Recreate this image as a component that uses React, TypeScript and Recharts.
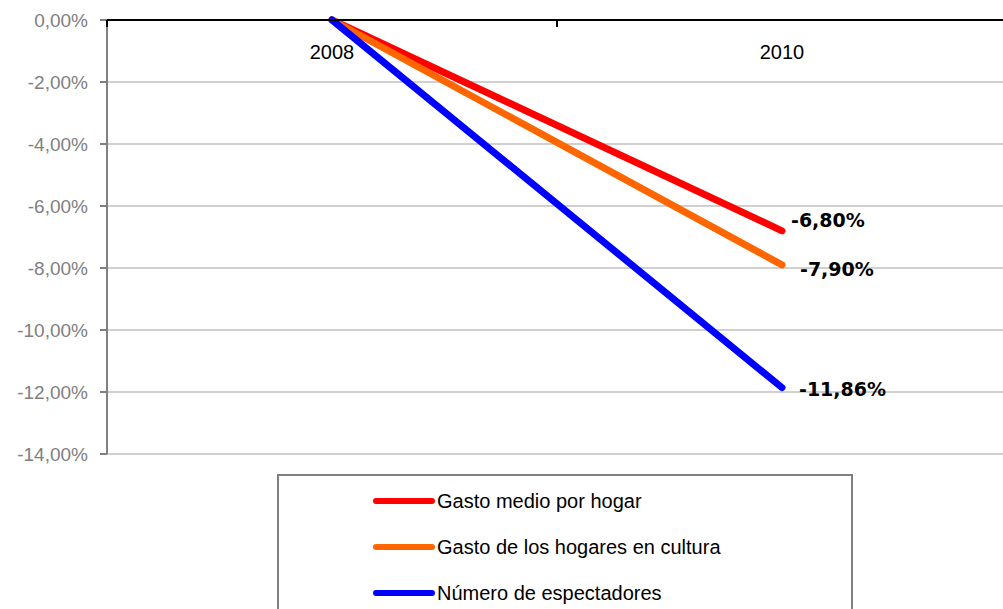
import { LineChart, Line, XAxis, YAxis, CartesianGrid, Legend, LabelList } from 'recharts';

// Variación 2008-2010 (en %)
const categories = ['2008', '2010'];
const gastoMedio = [0, -6.8];
const gastoCultura = [0, -7.9];
const espectadores = [0, -11.86];
const yTicks = [0, -2, -4, -6, -8, -10, -12, -14];

const series = [
  { key: 'gastoMedio', name: 'Gasto medio por hogar', color: '#ff0000', values: gastoMedio },
  { key: 'gastoCultura', name: 'Gasto de los hogares en cultura', color: '#ff6600', values: gastoCultura },
  { key: 'espectadores', name: 'Número de espectadores', color: '#0000ff', values: espectadores },
];

// label offsets (px) next to the last point of each line
const labelOffsets: Record<string, { dx: number; dy: number }> = {
  gastoMedio: { dx: 9, dy: -11 },
  gastoCultura: { dx: 18, dy: 4 },
  espectadores: { dx: 17, dy: 1 },
};

// x is the band centre on a 0..n numeric axis so the tick marks can sit between years
const data = categories.map((c, i) => {
  const row: Record<string, number | string> = { x: i + 0.5, name: c };
  series.forEach((s) => { row[s.key] = s.values[i]; });
  return row;
});

const FONT = '"Liberation Sans", Arial, sans-serif';
const fmtPct = (v: number) => `${v.toFixed(2).replace('.', ',')}%`;

const XTick = (props: any) => {
  const { x, y, payload } = props;
  const v = payload.value;
  if (Number.isInteger(v)) {
    return <line x1={x} x2={x} y1={y} y2={y + 7} stroke="#000" strokeWidth={2} />;
  }
  return (
    <text x={x} y={y + 39} textAnchor="middle" fontSize={20} fontFamily={FONT} fill="#000">
      {categories[Math.floor(v)]}
    </text>
  );
};

const endLabel = (key: string) => (props: any) => {
  const { x, y, value, index } = props;
  if (index !== categories.length - 1) return null;
  const off = labelOffsets[key];
  return (
    <text
      x={x + off.dx}
      y={y + off.dy}
      dominantBaseline="central"
      fontSize={19}
      fontWeight="bold"
      fontFamily='"DejaVu Sans", sans-serif'
      fill="#000"
    >
      {fmtPct(value)}
    </text>
  );
};

// legend keeps the series order (red, orange, blue)
const renderLegend = () => (
  <div style={{ paddingTop: 20 }}>
    <div
      style={{
        marginLeft: 277,
        width: 572,
        height: 161,
        border: '2px solid #808080',
        background: '#fff',
        paddingTop: 2,
        boxSizing: 'content-box',
      }}
    >
      {series.map((s) => (
        <div key={s.key} style={{ display: 'flex', alignItems: 'center', height: 46, paddingLeft: 94 }}>
          <span style={{ display: 'inline-block', width: 62, height: 6, borderRadius: 3, background: s.color }} />
          <span style={{ marginLeft: 2, fontSize: 20, fontFamily: FONT, color: '#000' }}>{s.name}</span>
        </div>
      ))}
    </div>
  </div>
);

export default function App() {
  return (
    <div style={{ position: 'absolute', left: 0, top: 0, width: 1003, height: 609, overflow: 'hidden', background: '#fff' }}>
      <LineChart width={1010} height={641} data={data} margin={{ top: 0, right: 3, bottom: 0, left: 0 }}>
        <CartesianGrid vertical={false} stroke="#c0c0c0" strokeWidth={1.5} />
        <XAxis
          dataKey="x"
          type="number"
          orientation="top"
          domain={[0, categories.length]}
          ticks={[0, 0.5, 1, 1.5, 2]}
          height={20}
          tickSize={0}
          tickMargin={0}
          tickLine={false}
          axisLine={{ stroke: '#000', strokeWidth: 2 }}
          tick={<XTick />}
          interval={0}
        />
        <YAxis
          domain={[-14, 0]}
          ticks={yTicks}
          width={107}
          tickSize={7}
          tickMargin={12}
          tickFormatter={fmtPct}
          tick={{ fill: '#808080', fontSize: 19, fontFamily: FONT }}
          axisLine={{ stroke: '#808080', strokeWidth: 2 }}
          tickLine={{ stroke: '#808080', strokeWidth: 2 }}
          interval={0}
        />
        <Legend verticalAlign="bottom" content={renderLegend} wrapperStyle={{ left: 0, width: 1010 }} />
        {series.map((s) => (
          <Line
            key={s.key}
            type="linear"
            dataKey={s.key}
            name={s.name}
            stroke={s.color}
            strokeWidth={7}
            strokeLinecap="round"
            dot={false}
            activeDot={false}
            isAnimationActive={false}
          >
            <LabelList dataKey={s.key} content={endLabel(s.key)} />
          </Line>
        ))}
      </LineChart>
    </div>
  );
}
